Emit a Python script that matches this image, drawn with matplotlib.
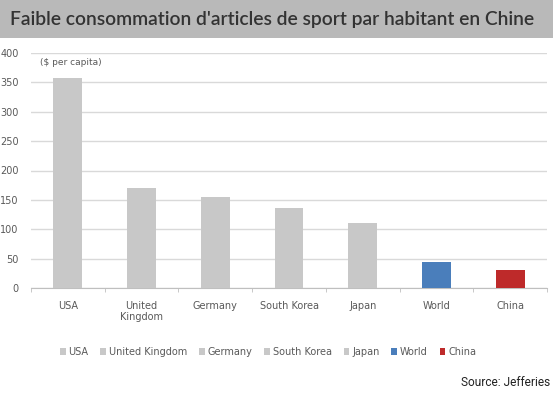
import matplotlib
matplotlib.use("Agg")
import matplotlib.pyplot as plt
from matplotlib.patches import Rectangle, Patch

categories = ["USA", "United\nKingdom", "Germany", "South Korea", "Japan", "World", "China"]
legend_labels = ["USA", "United Kingdom", "Germany", "South Korea", "Japan", "World", "China"]
values = [357, 170, 155, 137, 111, 45, 31]
colors = ["#c8c8c8", "#c8c8c8", "#c8c8c8", "#c8c8c8", "#c8c8c8", "#4a7ebb", "#be2a2a"]
yticks = [0, 50, 100, 150, 200, 250, 300, 350, 400]

W, H = 560, 396
fig = plt.figure(figsize=(W / 100, H / 100), dpi=100)
fig.patch.set_facecolor("white")

# title bar
fig.patches.append(Rectangle((0, 1 - 38 / H), 553 / W, 38 / H, transform=fig.transFigure,
                             facecolor="#b9b9b9", edgecolor="none", zorder=0))
fig.text(10 / W, 1 - 19 / H, "Faible consommation d'articles de sport par habitant en Chine",
         fontsize=13.9, fontweight="semibold", family="Lato", color="#333333",
         va="center", ha="left")

ax = fig.add_axes([31 / W, 1 - 288.3 / H, 516 / W, 235.6 / H])
x = list(range(len(categories)))
ax.bar(x, values, width=0.39, color=colors, zorder=3)
ax.set_xlim(-0.5, len(categories) - 0.5)
ax.set_ylim(0, 400)
ax.set_yticks(yticks)
ax.set_yticklabels([str(v) for v in yticks], fontsize=7, color="#595959")
ax.set_xticks(x)
ax.set_xticklabels(categories, fontsize=7, color="#595959")
ax.tick_params(axis="y", length=0, pad=9)
ax.tick_params(axis="x", length=0, pad=9)
ax.set_xticks([i + 0.5 for i in range(-1, len(categories))], minor=True)
ax.tick_params(axis="x", which="minor", length=3, color="#bfbfbf", direction="out")
ax.grid(axis="y", color="#d9d9d9", linewidth=1, zorder=0)
for s in ["top", "right", "left"]:
    ax.spines[s].set_visible(False)
ax.spines["bottom"].set_color("#bfbfbf")
ax.text(-0.38, 384, "($ per capita)", fontsize=6.5, color="#595959", ha="left", va="center")

handles = [Patch(facecolor=c, edgecolor="none") for c in colors]
fig.legend(handles, legend_labels, loc="center", bbox_to_anchor=(268 / W, 1 - 352 / H), ncol=7,
           frameon=False, fontsize=7, labelcolor="#595959", handlelength=0.6, handleheight=0.6,
           handletextpad=0.3, columnspacing=1.2)

fig.text(550 / W, 1 - 383 / H, "Source: Jefferies", fontsize=8.6, family="Roboto",
         stretch="condensed", color="#222222", ha="right", va="center")

fig.savefig("out.png", dpi=100)
